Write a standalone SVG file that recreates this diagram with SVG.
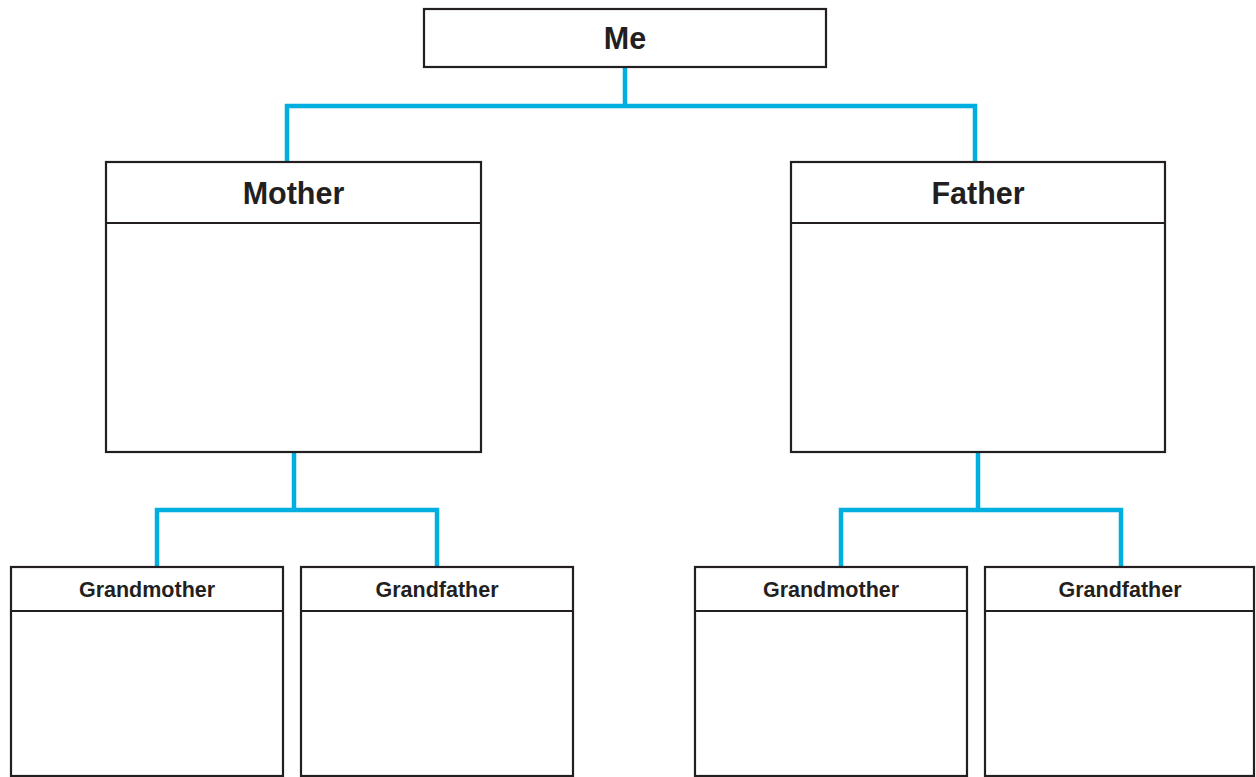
<svg xmlns="http://www.w3.org/2000/svg" width="1256" height="777" viewBox="0 0 1256 777">
<style>
.box{fill:#fff;stroke:#231f20;stroke-width:2.2}
.div{stroke:#231f20;stroke-width:2.2}
.con{fill:none;stroke:#00aee0;stroke-width:4.5;stroke-linejoin:miter}
.t1{font-family:"Liberation Sans",Arial,sans-serif;font-weight:bold;font-size:30.5px;fill:#231f20;text-anchor:middle}
.t2{font-family:"Liberation Sans",Arial,sans-serif;font-weight:bold;font-size:21.5px;fill:#231f20;text-anchor:middle}
</style>
<rect width="1256" height="777" fill="#fff"/>
<g id="connectors">
<path class="con" d="M625 67 V106 M287 162 V106 H975 V162"/>
<path class="con" d="M294 452 V510 M157 567 V510 H437 V567"/>
<path class="con" d="M978 452 V510 M841 567 V510 H1121 V567"/>
</g>
<g id="me">
<rect class="box" x="424" y="9" width="402" height="58"/>
<text class="t1" x="625" y="49">Me</text>
</g>
<g id="mother">
<rect class="box" x="106" y="162" width="375" height="290"/>
<line class="div" x1="106" y1="223" x2="481" y2="223"/>
<text class="t1" x="293.5" y="204">Mother</text>
</g>
<g id="father">
<rect class="box" x="791" y="162" width="374" height="290"/>
<line class="div" x1="791" y1="223" x2="1165" y2="223"/>
<text class="t1" x="978" y="204">Father</text>
</g>
<g id="m-grandmother">
<rect class="box" x="11" y="567" width="272" height="209"/>
<line class="div" x1="11" y1="611" x2="283" y2="611"/>
<text class="t2" x="147" y="597">Grandmother</text>
</g>
<g id="m-grandfather">
<rect class="box" x="301" y="567" width="272" height="209"/>
<line class="div" x1="301" y1="611" x2="573" y2="611"/>
<text class="t2" x="437" y="597">Grandfather</text>
</g>
<g id="f-grandmother">
<rect class="box" x="695" y="567" width="272" height="209"/>
<line class="div" x1="695" y1="611" x2="967" y2="611"/>
<text class="t2" x="831" y="597">Grandmother</text>
</g>
<g id="f-grandfather">
<rect class="box" x="985" y="567" width="269" height="209"/>
<line class="div" x1="985" y1="611" x2="1254" y2="611"/>
<text class="t2" x="1120" y="597">Grandfather</text>
</g>
</svg>
